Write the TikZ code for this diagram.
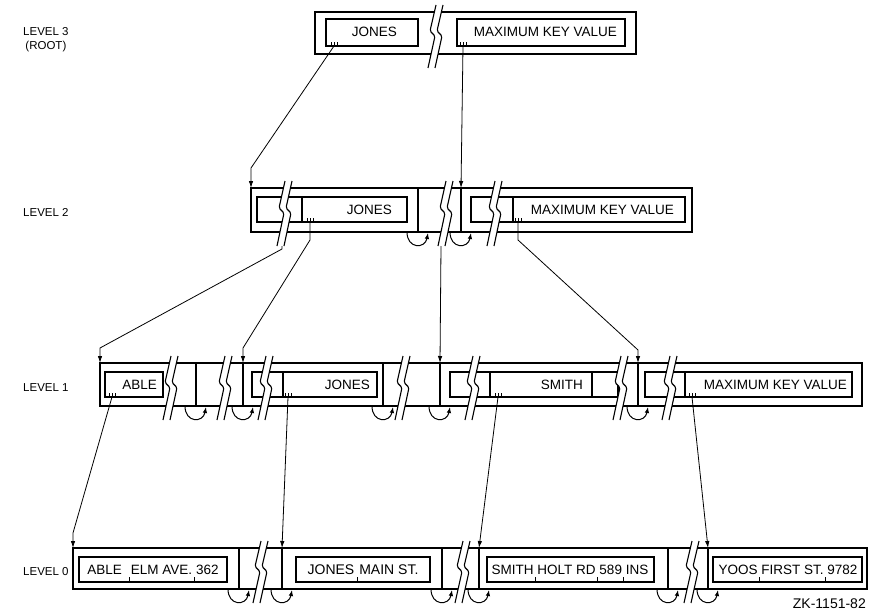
\documentclass[tikz,border=0pt]{standalone}
\usepackage{fontspec}
\setmainfont{Liberation Sans}
\usetikzlibrary{arrows.meta,calc}

% break symbol: left stroke at #1, box from #2 to #3
\newcommand{\cutmark}[3]{%
  \pgfmathsetmacro\ym{(#2+#3)/2}
  \fill[white] (#1+5,#2-7) -- (#1-1,\ym-2) -- (#1+4,\ym+3) -- (#1-3,#3+14)
    -- (#1+4,#3+14) -- (#1+11,\ym+3) -- (#1+6,\ym-2) -- (#1+12,#2-7) -- cycle;
  \draw[cut] (#1+5,#2-7) -- (#1-1,\ym-2) -- (#1+4,\ym+3) -- (#1-3,#3+14);
  \draw[cut] (#1+12,#2-7) -- (#1+6,\ym-2) -- (#1+11,\ym+3) -- (#1+4,#3+14);
}
% loop under a bucket divider
\newcommand{\nextlink}[1]{%
  \draw[lk] ($(#1)+(-11,0)$) .. controls ($(#1)+(-11,17)$) and ($(#1)+(7,17)$) .. ($(#1)+(10,1)$);
}
% pointer ticks at the foot of a record
\newcommand{\ptrtick}[1]{%
  \draw[line width=0.7pt] ($(#1)+(-3,0)$) -- ++(0,-4) (#1) -- ++(0,-4) ($(#1)+(3,0)$) -- ++(0,-4);
}
% field separator inside a data record
\newcommand{\fsep}{\llap{\rule[-8pt]{0.8pt}{5pt}\kern1.5pt}}

\begin{document}
\begin{tikzpicture}[x=1pt, y=-1pt,
  box/.style={line width=1.4pt},
  rec/.style={line width=1.1pt},
  cut/.style={line width=1.1pt, rounded corners=1.5pt},
  ptr/.style={-{Latex[length=7pt,width=4.5pt]}, line width=0.8pt},
  lk/.style={-{Latex[length=6pt,width=4.5pt]}, line width=1pt},
  key/.style={font=\fontsize{13.5}{16}\selectfont, inner sep=0pt},
  lvl/.style={font=\fontsize{11.5}{14}\selectfont, inner sep=0pt, align=center}]

  \useasboundingbox (0,0) rectangle (872,610);

  % level labels
  \node[lvl, anchor=north west] (lv3) at (23,27) {LEVEL 3\\(ROOT)};
  \node[lvl, anchor=base west] (lv2) at (23,216) {LEVEL 2};
  \node[lvl, anchor=base west] (lv1) at (23,391) {LEVEL 1};
  \node[lvl, anchor=base west] (lv0) at (23,575) {LEVEL 0};

  % level 3
  \draw[box] (315,12) rectangle (636,54);
  \draw[rec] (326,19) rectangle (418,46);
  \draw[rec] (457,19) rectangle (625,46);
  \node[key, anchor=base east] (k3a) at (397,37) {JONES};
  \node[key, anchor=base east] (k3b) at (617,37) {MAXIMUM KEY VALUE};
  \coordinate (p3a) at (334,46);
  \coordinate (p3b) at (463,46);
  \ptrtick{p3a} \ptrtick{p3b}
  \cutmark{431}{12}{54}

  % level 2
  \draw[box] (251,188) rectangle (692,232);
  \draw[rec] (257,197) rectangle (407,222) (302,197) -- (302,222);
  \draw[rec] (471,197) rectangle (685,222) (513,197) -- (513,222);
  \foreach \x in {418,461} \draw[box] (\x,188) -- (\x,232);
  \node[key, anchor=base east] (k2a) at (392,214) {JONES};
  \node[key, anchor=base east] (k2b) at (674,214) {MAXIMUM KEY VALUE};
  \coordinate (p2b) at (310,222);
  \coordinate (p2d) at (518,222);
  \ptrtick{p2b} \ptrtick{p2d}
  \foreach \c in {280,441,490} {\cutmark{\c}{188}{232}}

  % level 1
  \draw[box] (100,363) rectangle (862,406);
  \draw[rec] (105,372) rectangle (163,397);
  \draw[rec] (252,372) rectangle (377,397) (283,372) -- (283,397);
  \draw[rec] (450,372) rectangle (618,397) (490,372) -- (490,397) (592,372) -- (592,397);
  \draw[rec] (645,372) rectangle (852,397) (685,372) -- (685,397);
  \foreach \x in {196,243,383,440,638} \draw[box] (\x,363) -- (\x,406);
  \node[key, anchor=base east] (k1a) at (157,389) {ABLE};
  \node[key, anchor=base east] (k1b) at (370,389) {JONES};
  \node[key, anchor=base east] (k1c) at (583,389) {SMITH};
  \node[key, anchor=base east] (k1d) at (847,389) {MAXIMUM KEY VALUE};
  \coordinate (p1a) at (112,397);
  \coordinate (p1b) at (288,397);
  \coordinate (p1c) at (498,397);
  \coordinate (p1d) at (692,397);
  \ptrtick{p1a} \ptrtick{p1b} \ptrtick{p1c} \ptrtick{p1d}
  \foreach \c in {166,220,261,398,468,616,665} {\cutmark{\c}{363}{406}}

  % level 0
  \draw[box] (73,548) rectangle (867,589);
  \draw[rec] (79,557) rectangle (227,582);
  \draw[rec] (296,557) rectangle (430,582);
  \draw[rec] (487,557) rectangle (654,582);
  \draw[rec] (713,557) rectangle (862,582);
  \foreach \x in {239,282,442,479,668,708} \draw[box] (\x,548) -- (\x,589);
  \node[key, anchor=base] (d0a) at (153,574) {ABLE\hspace{9pt}\fsep ELM AVE.\hspace{4pt}\fsep 362};
  \node[key, anchor=base, font=\fontsize{14}{16}\selectfont] (d0b) at (363,574) {JONES\hspace{5pt}\fsep MAIN ST.};
  \node[key, anchor=base] (d0c) at (570,574) {SMITH \fsep HOLT RD \fsep 589 \fsep INS};
  \node[key, anchor=base] (d0d) at (788,574) {YOOS \fsep FIRST ST. \fsep 9782};
  \foreach \c in {256,458,687} {\cutmark{\c}{548}{589}}

  \node[key, anchor=base east, font=\fontsize{14}{16}\selectfont] (zk) at (866,608) {ZK-1151-82};

  % links to next bucket
  \foreach \x in {418,461} {\coordinate (dv) at (\x,232); \nextlink{dv}}
  \foreach \x in {196,243,383,440,638} {\coordinate (dv) at (\x,406); \nextlink{dv}}
  \foreach \x in {239,282,442,479,668,708} {\coordinate (dv) at (\x,589); \nextlink{dv}}

  % targets
  \coordinate (t2a) at (251,188);
  \coordinate (t2b) at (461,188);
  \coordinate (p2a) at (282,246);
  \coordinate (p2c) at (441,246);
  \coordinate (t1a) at (100,363);
  \coordinate (t1b) at (243,363);
  \coordinate (t1c) at (440,363);
  \coordinate (t1d) at (638,363);
  \coordinate (t0a) at (73,548);
  \coordinate (t0b) at (282,548);
  \coordinate (t0c) at (479,548);
  \coordinate (t0d) at (708,548);

  % down pointers
  \draw[ptr] (p3a) -- ($(t2a)+(0,-20)$) -- (t2a);
  \draw[ptr] (p3b) -- (t2b);
  \draw[ptr] (p2a) -- ($(p2a)+(0,3)$) -- ($(t1a)+(0,-15)$) -- (t1a);
  \draw[ptr] (p2b) -- ($(p2b)+(0,18)$) -- ($(t1b)+(0,-15)$) -- (t1b);
  \draw[ptr] (p2c) -- (t1c);
  \draw[ptr] (p2d) -- ($(p2d)+(0,18)$) -- ($(t1d)+(0,-13)$) -- (t1d);
  \draw[ptr] (p1a) -- ($(t0a)+(0,-15)$) -- (t0a);
  \draw[ptr] (p1b) -- (t0b);
  \draw[ptr] (p1c) -- (t0c);
  \draw[ptr] (p1d) -- (t0d);
\end{tikzpicture}
\end{document}
